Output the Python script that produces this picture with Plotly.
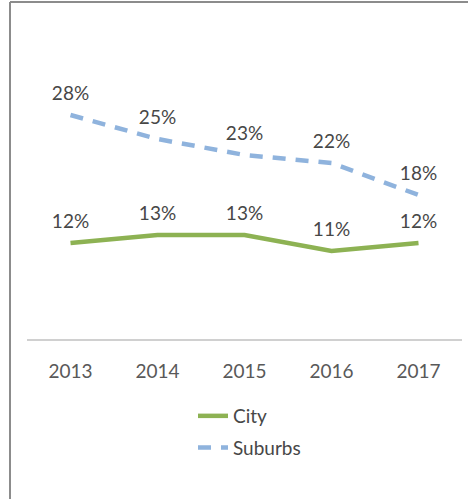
import plotly.graph_objects as go

years = ["2013", "2014", "2015", "2016", "2017"]
city = [12, 13, 13, 11, 12]
suburbs = [28, 25, 23, 22, 18]
city_labels = ["12%", "13%", "13%", "11%", "12%"]
suburbs_labels = ["28%", "25%", "23%", "22%", "18%"]

FONT = "Lato"
TXT = "#474747"
W, H = 468, 499
ML, MR, MT, MB = 27, 6, 59, 160

fig = go.Figure()
fig.add_trace(go.Scatter(
    x=years, y=city, name="City", mode="lines+markers+text",
    text=city_labels, textposition="top center",
    textfont=dict(family=FONT, size=19, color=TXT),
    line=dict(color="#8DB253", width=4.5),
    marker=dict(size=15, color="rgba(0,0,0,0)"),
    legendgroup="a",
))
fig.add_trace(go.Scatter(
    x=years, y=suburbs, name="Suburbs", mode="lines+markers+text",
    text=suburbs_labels, textposition="top center",
    textfont=dict(family=FONT, size=19, color=TXT),
    line=dict(color="#8FB3DD", width=4.5, dash="13px,10px"),
    marker=dict(size=15, color="rgba(0,0,0,0)"),
    legendgroup="b",
))

pw = W - ML - MR
ph = H - MT - MB
fig.update_layout(
    width=W, height=H,
    margin=dict(l=ML, r=MR, t=MT, b=MB, autoexpand=False),
    paper_bgcolor="white", plot_bgcolor="white",
    font=dict(family=FONT, size=19, color=TXT),
    xaxis=dict(
        showgrid=False, showline=True, linecolor="#D0D0D0", linewidth=2,
        ticks="outside", ticklen=14, tickcolor="rgba(0,0,0,0)",
        tickfont=dict(family=FONT, size=19, color="#595959"),
        range=[-0.5, 4.5], fixedrange=True,
    ),
    yaxis=dict(visible=False, range=[0, 35]),
    legend=dict(
        x=(193 - ML) / pw, xanchor="left",
        y=-(397 - MT - ph) / ph, yanchor="top",
        traceorder="grouped", tracegroupgap=4,
        font=dict(family=FONT, size=19, color=TXT),
        bgcolor="rgba(0,0,0,0)",
    ),
    showlegend=True,
    shapes=[
        dict(type="line", xref="paper", yref="paper",
             x0=(10 - ML) / pw, x1=(10 - ML) / pw,
             y0=-(H - MT - ph) / ph - 0.01, y1=1 + (MT - 2) / ph,
             line=dict(color="#8C8C8C", width=2)),
        dict(type="line", xref="paper", yref="paper",
             x0=(10 - ML) / pw, x1=1 + MR / pw + 0.01,
             y0=1 + (MT - 2) / ph, y1=1 + (MT - 2) / ph,
             line=dict(color="#8C8C8C", width=2)),
    ],
)

fig.write_html("out.html", config={"displayModeBar": False},
               post_script="document.body.style.margin='0';")
